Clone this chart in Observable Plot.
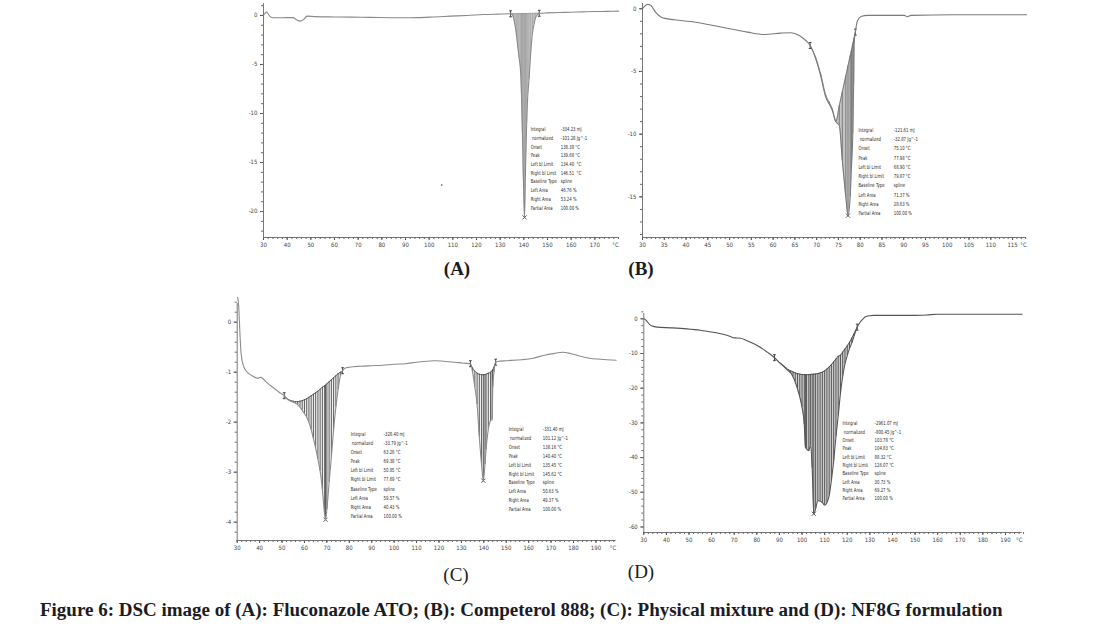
<!DOCTYPE html>
<html><head><meta charset="utf-8">
<script src="https://cdn.jsdelivr.net/npm/d3@7"></script>
<script src="https://cdn.jsdelivr.net/npm/@observablehq/plot@0.6"></script>
<style>
body{margin:0;background:#fff;}
#wrap{position:relative;width:1116px;height:643px;overflow:hidden;background:#fff;}
.panel{position:absolute;}
.panel svg{overflow:visible;}
.lab{position:absolute;font-family:"Liberation Serif",serif;font-size:19px;color:#1b1b24;transform:translateX(-50%);white-space:nowrap;line-height:1;}
#cap{position:absolute;left:40px;top:600px;font-family:"Liberation Serif",serif;font-weight:bold;font-size:18px;color:#1b1b24;white-space:nowrap;line-height:1;}
</style></head>
<body><div id="wrap"></div>
<script>
// ---------- DATA ----------
// Panel A: Fluconazole ATO
const aT = [30,30.6,31.3,32,33,35,40,42.5,44,45.6,47,48.4,52,60,67,75,88,95,102,109,116,123,129,
            150,155,160,165,170,175,180];
const aV = [0,0.2,0.34,0.15,-0.15,-0.24,-0.22,-0.22,-0.45,-0.58,-0.4,-0.07,-0.12,-0.15,-0.17,-0.2,-0.24,-0.22,-0.15,-0.07,0,0.1,0.14,
            0.26,0.3,0.33,0.37,0.4,0.42,0.44];
const aPeakT = [134.4,135,135.6,136.3,137,137.5,138,138.7,139,139.4,139.8,140.3,140.7,141.2,141.7,142.2,142.9,143.6,144.3,145,145.8,146.5];
const aPeakV = [0.17,0.12,-0.2,-1.0,-2.2,-3.3,-4.3,-6.0,-8.0,-12.0,-16.5,-20.6,-16,-11,-8.0,-6.5,-3.8,-1.9,-0.9,-0.2,0.1,0.22];
const aPeakB = [0.17,0.17,0.18,0.18,0.18,0.19,0.19,0.19,0.19,0.2,0.2,0.2,0.2,0.2,0.2,0.21,0.21,0.21,0.21,0.22,0.22,0.22];
const aStray = [[105.3,-17.3]];
const aXTicks = [30,40,50,60,70,80,90,100,110,120,130,140,150,160,170];
const aYTicks = [0,-5,-10,-15,-20];
const aAnnValues = ["-334.23 mJ","-101.28 Jg^-1","138.38 °C","139.68 °C","134.40  °C","146.51  °C","spline","46.76 %","53.24 %","100.00 %"];

// Panel B: Competerol 888
const bT = [30,31.2,31.9,33,34.6,37.3,41.9,48,54.1,58,61.8,64.1,66,67.5,
            79.4,80.2,81.7,90.2,90.8,91.7,101.6,118.2];
const bV = [0,0.35,0.27,-0.27,-0.72,-0.88,-1.06,-1.46,-1.86,-2.05,-1.94,-1.91,-2.13,-2.53,
            -0.93,-0.61,-0.53,-0.53,-0.64,-0.53,-0.48,-0.48];
const bPeakT = [68.5,69.8,71.0,72.1,72.9,73.6,74.4,75.2,75.9,76.7,77.2,77.7,78.0,78.3,78.5,78.6,78.9];
const bPeakV = [-2.93,-4.0,-5.45,-7.05,-7.6,-8.1,-9.0,-9.3,-12.1,-15.0,-16.5,-15.0,-12.6,-10.0,-6.0,-2.8,-1.86];
const bPeakB = [-2.93,-3.9,-5.3,-6.9,-7.45,-8.0,-9.0,-7.73,-6.62,-5.35,-4.56,-3.76,-3.29,-2.81,-2.49,-2.33,-1.86];
const bXTicks = [30,35,40,45,50,55,60,65,70,75,80,85,90,95,100,105,110,115];
const bYTicks = [0,-5,-10,-15];
const bAnnValues = ["-121.61 mJ","-32.87 Jg^-1","75.10 °C","77.98 °C","68.90 °C","79.87 °C","spline","71.37 %","28.63 %","100.00 %"];

// Panel C: Physical mixture
const cT = [30.2,30.7,31,31.3,31.8,33,35,37,39,40.5,41.5,43,45,47,49,
            78,80,85,90,95,100,105,110,115,118,122,127,131,
            146.5,150,157,162,167,172,175,179,183,187,192,199];
const cV = [0.5,0.3,0,-0.3,-0.65,-0.9,-1.02,-1.08,-1.12,-1.1,-1.13,-1.2,-1.27,-1.34,-1.41,
            -0.92,-0.9,-0.88,-0.87,-0.86,-0.84,-0.83,-0.8,-0.78,-0.77,-0.78,-0.8,-0.82,
            -0.78,-0.77,-0.75,-0.72,-0.66,-0.62,-0.6,-0.63,-0.68,-0.72,-0.74,-0.76];
const cPeak1T = [51,52,53,54,55,56,57,58,59,60,61,62,63,64,65,66,67,68,69,69.4,70,71,72,73,74,75,76,77];
const cPeak1V = [-1.47,-1.53,-1.56,-1.58,-1.6,-1.62,-1.65,-1.7,-1.76,-1.83,-1.9,-2.0,-2.15,-2.33,-2.52,-2.74,-2.98,-3.35,-3.85,-3.95,-3.75,-3.2,-2.7,-2.15,-1.7,-1.35,-1.08,-0.97];
const cPeak1B = [-1.47,-1.52,-1.55,-1.57,-1.58,-1.59,-1.59,-1.58,-1.57,-1.55,-1.53,-1.5,-1.47,-1.44,-1.41,-1.38,-1.34,-1.3,-1.27,-1.26,-1.23,-1.19,-1.15,-1.11,-1.07,-1.03,-1.0,-0.97];
const cPeak2T = [134,135,136,137,138,139,139.8,140.5,141,142,143,143.7,144,144.5,145.3];
const cPeak2V = [-0.83,-1.0,-1.3,-1.65,-2.3,-2.85,-3.17,-2.85,-2.55,-2.15,-1.97,-1.95,-1.3,-1.0,-0.8];
const cPeak2B = [-0.83,-0.92,-0.98,-1.02,-1.04,-1.05,-1.05,-1.05,-1.04,-1.02,-1.0,-0.97,-0.95,-0.9,-0.8];
const cXTicks = [30,40,50,60,70,80,90,100,110,120,130,140,150,160,170,180,190];
const cYTicks = [0,-1,-2,-3,-4];
const cAnn1Values = ["-328.40 mJ","-33.79 Jg^-1","63.26 °C","69.38 °C","50.85 °C","77.69 °C","spline","59.57 %","40.43 %","100.00 %"];
const cAnn2Values = ["-331.40 mJ","101.12 Jg^-1","138.16 °C","140.40 °C","135.45 °C","145.62 °C","spline","50.63 %","49.37 %","100.00 %"];

// Panel D: NF8G formulation
const dT = [30,30.8,31.5,32.5,33.7,35.9,42,49,55,58,64,68,70,72.8,75,78.7,82,84.6,86.5,
            125.7,127,128,130,131.6,140,150,155,160,170,180,190,197.4];
const dV = [0,-0.3,-0.8,-1.6,-2.1,-2.4,-2.6,-2.9,-3.3,-3.6,-4.3,-5.0,-5.5,-5.6,-6.1,-7.2,-8.4,-9.6,-10.5,
            -1.0,0,0.6,0.9,1.0,1.0,1.0,1.1,1.3,1.3,1.3,1.3,1.3];
const dPeakT = [87.8,89,90,91,92,93,94,95,96,97,98,99,100,101,101.5,102,103,103.7,104.5,105.2,106,107,108,109,110,111,112,113,114,115,116,117,118,119,120,121,122,123,124.4];
const dPeakV = [-11.2,-12.0,-12.6,-13.2,-13.8,-14.4,-15.0,-15.6,-16.7,-18.2,-20.2,-22.5,-25.5,-30.5,-37.0,-37.5,-38.0,-36.5,-43.0,-56.2,-54.8,-52.4,-52.5,-53.0,-53.7,-53.0,-51.0,-46.5,-41.0,-34.0,-28.0,-21.5,-16.5,-13.0,-10.6,-8.6,-7.0,-5.0,-2.4];
const dPeakB = [-11.2,-12.0,-12.6,-13.1,-13.6,-14.2,-14.7,-15.0,-15.3,-15.6,-15.8,-15.95,-16.05,-16.1,-16.1,-16.1,-16.1,-16.05,-16.0,-15.95,-15.9,-15.8,-15.6,-15.4,-15.0,-14.5,-13.9,-13.2,-12.4,-11.6,-10.8,-10.5,-9.6,-8.7,-7.8,-6.8,-5.6,-4.3,-2.4];
const dXTicks = [30,40,50,60,70,80,90,100,110,120,130,140,150,160,170,180,190];
const dYTicks = [0,-10,-20,-30,-40,-50,-60];
const dAnnValues = ["-2961.07 mJ","-800.45 Jg^-1","103.78 °C","104.83 °C","88.32 °C","126.07 °C","spline","30.73 %","69.27 %","100.00 %"];

const annLabels = ["Integral"," normalized","Onset","Peak","Left bl Limit","Right bl Limit","Baseline Type","Left Area","Right Area","Partial Area"];
const panelLabels = ["(A)","(B)","(C)","(D)"];
const caption = "Figure 6: DSC image of (A): Fluconazole ATO; (B): Competerol 888; (C): Physical mixture and (D): NF8G formulation";

// ---------- HELPERS ----------
const rows = (T, V) => T.map((t, i) => ({t, v: V[i]}));
const peakRows = (T, V, B) => T.map((t, i) => ({t, v: V[i], b: B[i]}));
const range = (a, b, s) => d3.range(a, b + s / 2, s);
const ibeam = {draw(ctx, size){ const r = Math.sqrt(size / Math.PI); ctx.moveTo(0,-r); ctx.lineTo(0,r); ctx.moveTo(-r*0.45,-r); ctx.lineTo(r*0.45,-r); ctx.moveTo(-r*0.45,r); ctx.lineTo(r*0.45,r);} };
const NARROW = "'Liberation Sans Narrow','DejaVu Sans Condensed','Liberation Sans',sans-serif";
const ANN_FILL = "#2a2a2b";

function panel(cfg) {
  const peaks = cfg.peaks.map(p => peakRows(p.T, p.V, p.B));
  const full = [...rows(cfg.T, cfg.V), ...peaks.flat()].sort((a, b) => a.t - b.t);
  const marks = [];
  for (const pk of peaks) {
    marks.push(Plot.areaY(pk, {x: "t", y1: "b", y2: "v", fill: cfg.fill, curve: "monotone-x"}));
    marks.push(Plot.ruleX(pk, {x: "t", y1: "b", y2: "v", stroke: cfg.hatch, strokeWidth: 0.8}));
    marks.push(Plot.line(pk, {x: "t", y: "b", stroke: cfg.hatch, strokeWidth: 0.8, curve: "monotone-x"}));
    marks.push(Plot.dot([pk[0], pk[pk.length - 1]], {x: "t", y: "v", symbol: ibeam, r: 3, stroke: "#333", strokeWidth: 0.9}));
    const m = pk.reduce((a, d) => d.v < a.v ? d : a);
    marks.push(Plot.dot([m], {x: "t", y: "v", symbol: "times", r: 2, stroke: "#333", strokeWidth: 0.8}));
  }
  marks.push(Plot.line(full, {x: "t", y: "v", stroke: cfg.stroke, strokeWidth: 1.1, curve: "monotone-x"}));
  if (cfg.stray) marks.push(Plot.dot(cfg.stray, {x: d => d[0], y: d => d[1], r: 0.8, fill: "#2233cc"}));
  // axes
  marks.push(Plot.ruleX([cfg.x[0]], {stroke: "#777", strokeWidth: 1}));
  marks.push(Plot.ruleY([cfg.y[0]], {stroke: "#777", strokeWidth: 1}));
  marks.push(Plot.axisX({ticks: cfg.xTicks, tickSize: 3, tickPadding: 2, fontSize: 6, fontFamily: NARROW, label: null, tickFormat: d => String(d), color: "#444"}));
  marks.push(Plot.axisX({ticks: range(cfg.xTicks[0], cfg.x[1], cfg.xMinor), tickSize: 2, label: null, tickFormat: () => "", color: "#666"}));
  marks.push(Plot.axisY({ticks: cfg.yTicks, tickSize: 3, tickPadding: 3, fontSize: 6, fontFamily: NARROW, label: null, tickFormat: d => String(d), color: "#444"}));
  marks.push(Plot.axisY({ticks: range(cfg.y[0] + ((cfg.yTicks[0] - cfg.y[0]) % cfg.yMinor), cfg.y[1], cfg.yMinor), tickSize: 2, label: null, tickFormat: () => "", color: "#666"}));
  marks.push(Plot.text(["°C"], {x: () => cfg.x[1], y: () => cfg.y[0], dy: 8, dx: -3, fontSize: 6, fontFamily: NARROW, fill: "#444"}));
  // annotations
  for (const a of cfg.anns) {
    const common = {y: () => a.y, textAnchor: "start", lineAnchor: "top", lineHeight: a.lh, fontSize: 5.6, fontFamily: NARROW, fill: ANN_FILL};
    marks.push(Plot.text([annLabels.join("\n")], {...common, x: () => a.x1}));
    marks.push(Plot.text([a.values.join("\n")], {...common, x: () => a.x2}));
  }
  const svg = Plot.plot({
    width: cfg.w, height: cfg.h,
    marginLeft: cfg.m[0], marginRight: cfg.m[1], marginTop: cfg.m[2], marginBottom: cfg.m[3],
    x: {domain: cfg.x}, y: {domain: cfg.y},
    style: {background: "transparent"},
    marks
  });
  // condense the annotation text horizontally (the instrument software uses a narrow face)
  svg.querySelectorAll(`g[fill="${ANN_FILL}"] text`).forEach(el => {
    const tr = el.getAttribute("transform");
    if (tr) el.setAttribute("transform", tr + " scale(0.76,1)");
    else {
      const x = +el.getAttribute("x") || 0, y = +el.getAttribute("y") || 0;
      el.setAttribute("transform", `translate(${x},${y}) scale(0.76,1)`);
      el.setAttribute("x", 0); el.setAttribute("y", 0);
    }
  });
  const div = document.createElement("div");
  div.className = "panel";
  div.style.left = cfg.left + "px"; div.style.top = cfg.top + "px";
  div.appendChild(svg);
  document.getElementById("wrap").appendChild(div);
}

panel({left: 235, top: 0, w: 395, h: 262, m: [28, 12, 3, 25],
  x: [30, 180], y: [-22.65, 1.22], xTicks: aXTicks, yTicks: aYTicks, xMinor: 2, yMinor: 1,
  T: aT, V: aV, peaks: [{T: aPeakT, V: aPeakV, B: aPeakB}], stray: aStray,
  stroke: "#8a8a8a", fill: "#d4d4d4", hatch: "#9a9a9a",
  anns: [{x1: 142.9, x2: 155.6, y: -11.2, lh: 1.55, values: aAnnValues}]});

panel({left: 615, top: 0, w: 425, h: 262, m: [27, 14, 3, 25],
  x: [30, 118.2], y: [-18.24, 0.42], xTicks: bXTicks, yTicks: bYTicks, xMinor: 1, yMinor: 1,
  T: bT, V: bV, peaks: [{T: bPeakT, V: bPeakV, B: bPeakB}],
  stroke: "#7a7a7a", fill: "#c4c4c4", hatch: "#6a6a6a",
  anns: [{x1: 79.6, x2: 87.7, y: -9.3, lh: 1.65, values: bAnnValues}]});

panel({left: 210, top: 295, w: 415, h: 270, m: [26.7, 9.4, 8, 25],
  x: [30, 199], y: [-4.366, 0.374], xTicks: cXTicks, yTicks: cYTicks, xMinor: 2, yMinor: 0.2,
  T: cT, V: cV, peaks: [{T: cPeak1T, V: cPeak1V, B: cPeak1B}, {T: cPeak2T, V: cPeak2V, B: cPeak2B}],
  stroke: "#8c8c8c", fill: "#f0f0f0", hatch: "#3a3a3a",
  anns: [{x1: 80.6, x2: 95.3, y: -2.15, lh: 1.62, values: cAnn1Values},
         {x1: 151.1, x2: 166.3, y: -2.05, lh: 1.59, values: cAnn2Values}]});

panel({left: 615, top: 295, w: 425, h: 262, m: [28.3, 18.3, 18, 25],
  x: [30, 197.4], y: [-61.6, 1.53], xTicks: dXTicks, yTicks: dYTicks, xMinor: 2, yMinor: 2,
  T: dT, V: dV, peaks: [{T: dPeakT, V: dPeakV, B: dPeakB}],
  stroke: "#555", fill: "#cfcfcf", hatch: "#3a3a3a",
  anns: [{x1: 117.9, x2: 132.1, y: -29.0, lh: 1.49, values: dAnnValues}]});

// labels
const labPos = [[457, 259, "bold"], [641, 259, "bold"], [456, 565, "normal"], [641, 562, "normal"]];
panelLabels.forEach((t, i) => {
  const d = document.createElement("div");
  d.className = "lab"; d.textContent = t;
  d.style.left = labPos[i][0] + "px"; d.style.top = labPos[i][1] + "px"; d.style.fontWeight = labPos[i][2];
  document.getElementById("wrap").appendChild(d);
});
const cap = document.createElement("div");
cap.id = "cap"; cap.textContent = caption;
document.getElementById("wrap").appendChild(cap);
const w = cap.getBoundingClientRect().width;
cap.style.fontSize = (18 * 963 / w).toFixed(2) + "px";
</script>
</body></html>
